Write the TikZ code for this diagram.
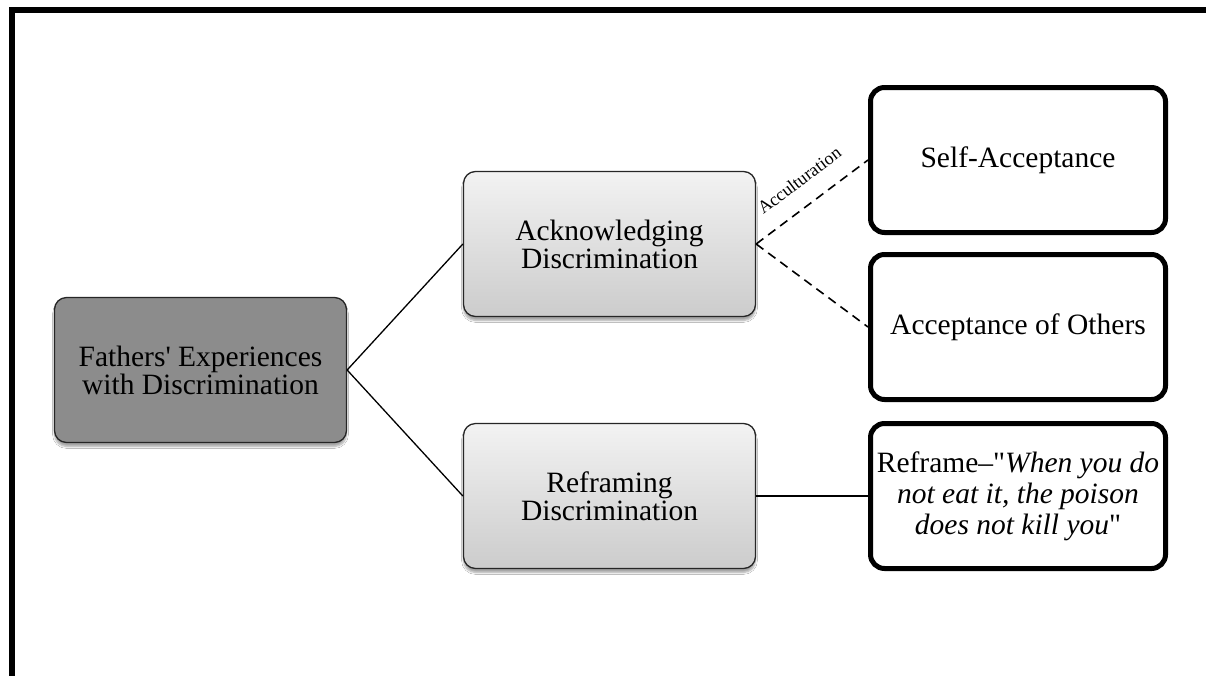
\documentclass[tikz,border=0pt]{standalone}
\usepackage{fontspec}
\setmainfont{Liberation Serif}
\usetikzlibrary{shadows.blur}
\begin{document}
\begin{tikzpicture}[x=1pt,y=-1pt,
  shade box/.style={draw=black!85, line width=1.3pt, rounded corners=12pt,
    minimum width=292pt, minimum height=145pt, inner sep=4pt, align=center,
    blur shadow={shadow xshift=0pt, shadow yshift=-4pt, shadow blur steps=6, shadow opacity=35}},
  rootbox/.style={shade box, fill={rgb,255:red,140;green,140;blue,140},
    font=\fontsize{29.5}{28}\selectfont},
  themebox/.style={shade box, top color=black!5, bottom color=black!20,
    font=\fontsize{29.5}{28}\selectfont},
  outcomebox/.style={draw=black, line width=5pt, rounded corners=14pt, fill=white,
    minimum width=295pt, minimum height=145pt, inner sep=2pt, align=center,
    font=\fontsize{29.5}{31}\selectfont},
  conn/.style={draw=black, line width=1.3pt},
  dashconn/.style={draw=black, line width=1.6pt, dash pattern=on 9pt off 6pt}
]
\useasboundingbox (0,0) rectangle (1206,675);
\clip (0,0) rectangle (1206,675);
\fill[white] (0,0) rectangle (1206,675);

% outer frame, running off the right and bottom edges
\draw[line width=5.5pt] (12,700) -- (12,10) -- (1230,10);

% first level
\node[rootbox] (root) at (200.5,370) {Fathers\textquotesingle{} Experiences\\with Discrimination};

% themes
\node[themebox] (ack) at (609.5,244) {Acknowledging\\Discrimination};
\node[themebox] (refr) at (609.5,496) {Reframing\\Discrimination};

% outcomes
\node[outcomebox] (self) at (1018,160) {Self-Acceptance};
\node[outcomebox] (others) at (1018,327) {Acceptance of Others};
\node[outcomebox] (quote) at (1018,496) {Reframe–\textquotedbl\textit{When you do}\\\textit{not eat it, the poison}\\\textit{does not kill you}\textquotedbl};

% connectors
\draw[conn] (root.east) -- (ack.west);
\draw[conn] (root.east) -- (refr.west);
\draw[dashconn] (ack.east) -- node[sloped, pos=0.52, above=18pt, inner sep=0pt,
  font=\fontsize{18}{18}\selectfont] (accl) {Acculturation} (self.west);
\draw[dashconn] (ack.east) -- (others.west);
\draw[conn] (refr.east) -- (quote.west);
\end{tikzpicture}
\end{document}
